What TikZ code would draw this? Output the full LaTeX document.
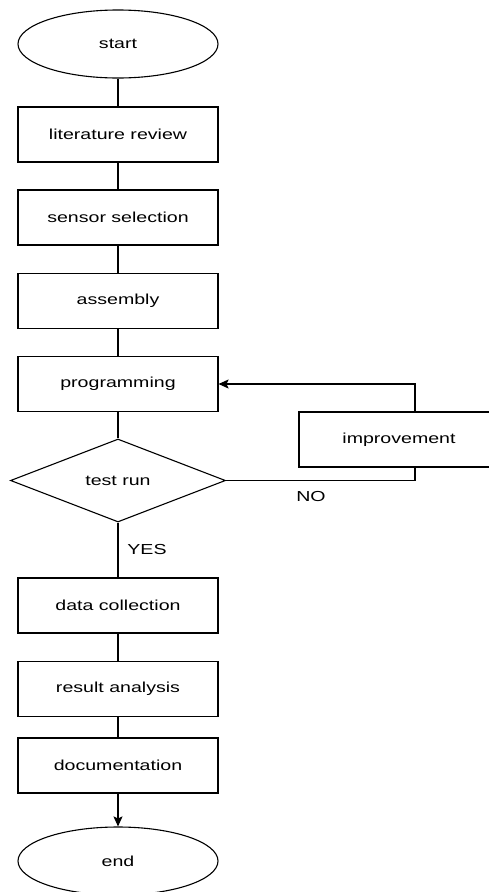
\documentclass[tikz,border=0pt]{standalone}
\usepackage{fontspec}
\setmainfont{Liberation Sans}[FakeStretch=1.35]
\usepackage{tikz}
\usetikzlibrary{shapes.geometric, arrows.meta}

\begin{document}
\begin{tikzpicture}[x=1pt, y=-1pt, line width=1.1pt,
		every node/.style={font=\fontsize{14.5}{17}\selectfont},
		terminal/.style={ellipse, draw, minimum width=200pt, minimum height=68pt, inner sep=0pt},
		stepbox/.style={rectangle, draw, minimum width=200pt, minimum height=55pt, inner sep=0pt},
		decision/.style={diamond, draw, minimum width=215pt, minimum height=83pt, inner sep=0pt, aspect=2.6},
		arr/.style={-{Stealth[length=10pt, width=9pt, inset=2pt]}}]
			\useasboundingbox (0,0) rectangle (488,892);
			
			% Define nodes
			\node[terminal] (start) at (118,44) {start};                  % Top ellipse
			\node[stepbox] (literature) at (118,134.5) {literature review};
			\node[stepbox] (sensor) at (118,217.5) {sensor selection};
			\node[stepbox] (assembly) at (118,301) {assembly};
			\node[stepbox] (programming) at (118,384) {programming};
			\node[decision] (testrun) at (118,480.5) {test run};            % Decision
			\node[stepbox] (improvement) at (399,439.5) {improvement};      % Loop box
			\node[stepbox] (datacollection) at (118,605.5) {data collection};
			\node[stepbox] (analysis) at (118,689) {result analysis};
			\node[stepbox] (documentation) at (118,765.5) {documentation};
			\node[terminal] (end) at (118,861) {end};                     % Bottom ellipse
			
			% Labels
			\node (no) at (311,497) {NO};
			\node (yes) at (147,550) {YES};
			
			% Connect nodes with straight lines
			\draw (start) -- (literature);
			\draw (literature) -- (sensor);
			\draw (sensor) -- (assembly);
			\draw (assembly) -- (programming);
			\draw (programming) -- (testrun);
			\draw (testrun) -- (datacollection);
			\draw (datacollection) -- (analysis);
			\draw (analysis) -- (documentation);
			\draw[arr] (documentation) -- (end);
			
			% Loop back through improvement
			\draw (testrun.east) -| ([xshift=16pt]improvement.south);
			\draw[arr] ([xshift=16pt]improvement.north) |- (programming.east);
		\end{tikzpicture}
\end{document}
